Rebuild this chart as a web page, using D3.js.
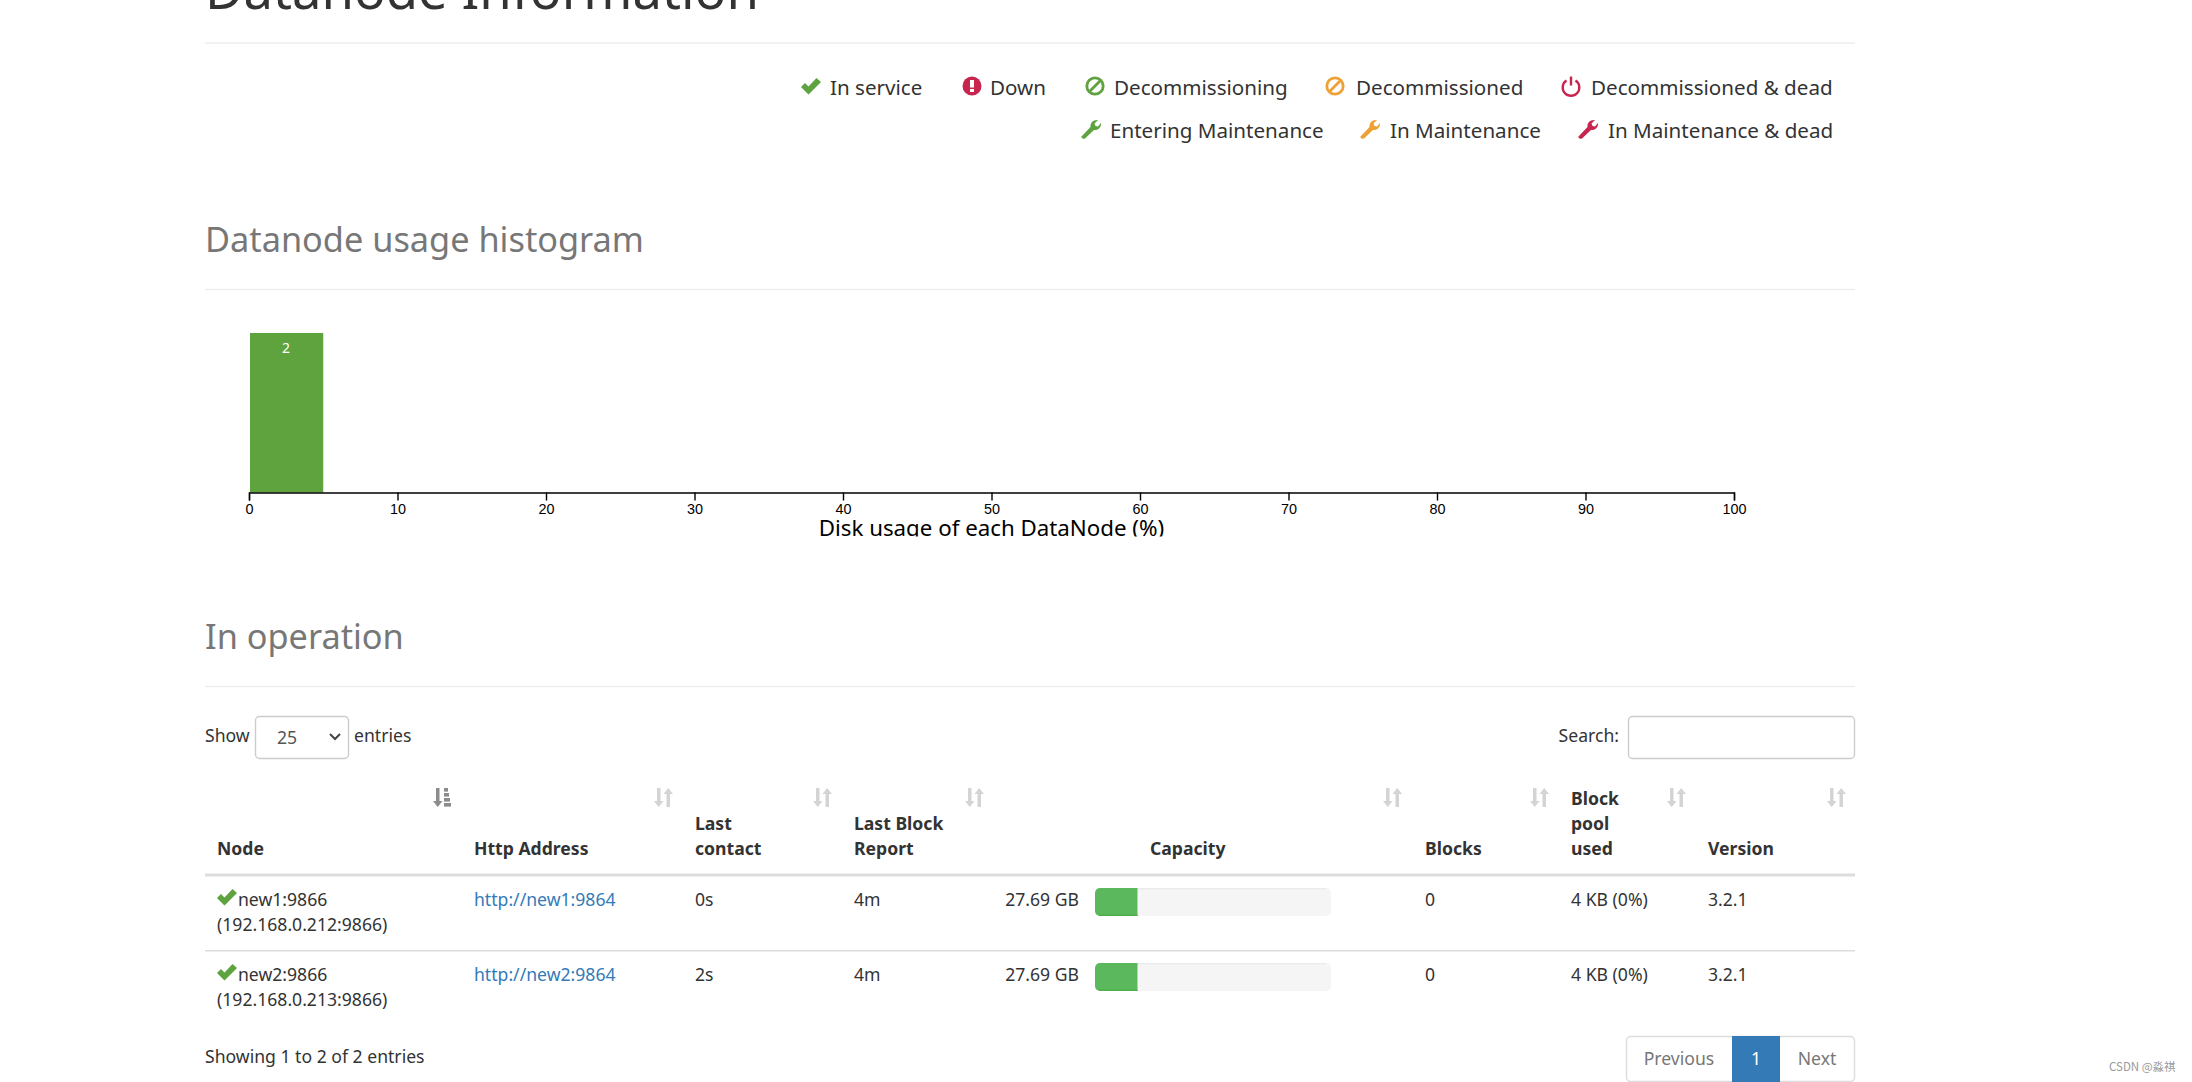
<!DOCTYPE html>
<html>
<head>
<meta charset="utf-8">
<script src="https://cdnjs.cloudflare.com/ajax/libs/d3/7.8.5/d3.min.js"></script>
<style>
  html, body { margin: 0; padding: 0; background: #fff; overflow: hidden; }
  svg { display: block; }
  text { font-family: "Noto Sans", sans-serif; }
</style>
</head>
<body>
<div id="page"></div>
<script>
// Chart values
var binStarts = [0];
var binEnds = [5];
var binCounts = [2];
var tickValues = [0, 10, 20, 30, 40, 50, 60, 70, 80, 90, 100];

// Legend
var legendLabels = ["In service", "Down", "Decommissioning", "Decommissioned", "Decommissioned & dead",
  "Entering Maintenance", "In Maintenance", "In Maintenance & dead"];
var legendIcons = ["check", "alert", "ban", "ban", "power", "wrench", "wrench", "wrench"];
var legendColors = ["#5fa341", "#c7254e", "#5fa341", "#eea236", "#c7254e", "#5fa341", "#eea236", "#c7254e"];

// Table
var nodeNames = ["new1:9866", "new2:9866"];
var nodeAddresses = ["(192.168.0.212:9866)", "(192.168.0.213:9866)"];
var httpAddresses = ["http://new1:9864", "http://new2:9864"];
var lastContacts = ["0s", "2s"];
var lastReports = ["4m", "4m"];
var capacities = ["27.69 GB", "27.69 GB"];
var usedPercents = [18, 18];
var blocks = ["0", "0"];
var poolUsed = ["4 KB (0%)", "4 KB (0%)"];
var versions = ["3.2.1", "3.2.1"];
var headers = [["Node"], ["Http Address"], ["Last", "contact"], ["Last Block", "Report"], ["Capacity"], ["Blocks"], ["Block", "pool", "used"], ["Version"]];

// Layout of the page
var pageLeft = 205, pageRight = 1855;
var textFont = 17.6;
var legendFont = 20.6;
var legendIconX = [801, 962, 1085, 1325, 1561, 1081, 1360, 1578];
var legendTextX = [830, 990, 1114, 1356, 1591, 1110, 1390, 1608];
var legendY = [88, 88, 88, 88, 88, 131, 131, 131];
var columnX = [217, 474, 695, 854, 1150, 1425, 1571, 1708];
var sortIconX = [442, 663, 822, 974, 1392, 1539, 1676, 1836];
var rowY = [900, 975];
var margin = { top: 333, left: 249, right: 458, bottom: 44 };

var svgWidth = 2192;
var svgHeight = 1082;

var svg = d3.select("#page").append("svg")
  .attr("width", svgWidth)
  .attr("height", svgHeight);

svg.append("rect").attr("width", svgWidth).attr("height", svgHeight).attr("fill", "#fff");

// plain text helper
function label(x, y, str, opts) {
  opts = opts || {};
  return svg.append("text")
    .attr("x", x)
    .attr("y", y)
    .attr("dy", "0.35em")
    .attr("font-size", opts.size || textFont)
    .attr("font-weight", opts.weight || 400)
    .attr("fill", opts.fill || "#333")
    .attr("text-anchor", opts.anchor || "start")
    .text(str);
}

function hr(y) {
  svg.append("line")
    .attr("x1", pageLeft).attr("x2", pageRight)
    .attr("y1", y).attr("y2", y)
    .attr("stroke", "#eee")
    .attr("stroke-width", 1.4);
}

// icons are drawn in a 20x20 box
function icon(parent, name, x, y, color, size) {
  var g = parent.append("g")
    .attr("transform", `translate(${x}, ${y - size / 2}) scale(${size / 20})`);
  if (name === "check") {
    g.append("path").attr("fill", color).attr("d", "M0 11 L4 7 L7.5 10.5 L15.5 2 L20 6 L7.5 18.5 Z");
  } else if (name === "alert") {
    g.append("circle").attr("cx", 10).attr("cy", 10).attr("r", 9.5).attr("fill", color);
    g.append("rect").attr("x", 8).attr("y", 4).attr("width", 4).attr("height", 7.5).attr("fill", "#fff");
    g.append("rect").attr("x", 8).attr("y", 13).attr("width", 4).attr("height", 3).attr("fill", "#fff");
  } else if (name === "ban") {
    g.append("circle").attr("cx", 10).attr("cy", 10).attr("r", 8.2)
      .attr("fill", "none").attr("stroke", color).attr("stroke-width", 2.8);
    g.append("line").attr("x1", 5).attr("y1", 15).attr("x2", 15).attr("y2", 5)
      .attr("stroke", color).attr("stroke-width", 2.8);
  } else if (name === "power") {
    g.append("path").attr("fill", "none").attr("stroke", color).attr("stroke-width", 2.4)
      .attr("d", "M5.5 4.5 A8.3 8.3 0 1 0 14.5 4.5");
    g.append("line").attr("x1", 10).attr("y1", 0.5).attr("x2", 10).attr("y2", 9.5)
      .attr("stroke", color).attr("stroke-width", 2.4);
  } else if (name === "wrench") {
    g.append("path").attr("fill", color)
      .attr("d", "M0.5 17.5 L9.5 8 C9 4 12 0.5 17 1 L13.5 4.5 L14.5 7 L17 7.5 L20 4 C20.5 8.5 17 11.5 13 11 L4 19.5 C2.5 20.5 -0.5 19 0.5 17.5 Z");
  }
}

// sort arrows: down and up pair, first one is the active column
function sortIcon(x, y, active) {
  var g = svg.append("g").attr("transform", `translate(${x - 9}, ${y - 10})`);
  if (active) {
    g.append("path").attr("fill", "#8c8c8c").attr("d", "M3 0 H6.5 V13 H9.5 L4.75 19 L0 13 H3 Z");
    g.selectAll("rect").data([[11, 0, 4], [11, 5, 5], [11, 10, 6], [11, 15, 7]]).enter().append("rect")
      .attr("x", d => d[0]).attr("y", d => d[1]).attr("width", d => d[2]).attr("height", 3.6).attr("fill", "#8c8c8c");
  } else {
    g.append("path").attr("fill", "#d4d4d4").attr("d", "M3 0 H6.5 V13 H9.5 L4.75 19 L0 13 H3 Z");
    g.append("path").attr("fill", "#d4d4d4").attr("d", "M12.5 19 H16 V6 H19 L14.25 0 L9.5 6 H12.5 Z");
  }
}

// Page headings
label(pageLeft, -9, "Datanode Information", { size: 52.6, fill: "#333" });
hr(43);
label(pageLeft, 240, "Datanode usage histogram", { size: 34.3, fill: "#777" });
hr(289.5);
label(pageLeft, 637, "In operation", { size: 34.3, fill: "#777" });
hr(686.5);

// Legend
legendLabels.forEach(function (d, i) {
  icon(svg, legendIcons[i], legendIconX[i], legendY[i] - 2, legendColors[i], 20);
  label(legendTextX[i], legendY[i], d, { size: legendFont });
});

// Histogram, inner svg cuts the axis title off like the original
var height = 492.5 - margin.top;

var histogram = svg.append("svg")
  .attr("x", 0)
  .attr("y", margin.top)
  .attr("width", svgWidth)
  .attr("height", height + margin.bottom);

var chartGroup = histogram.append("g")
  .attr("transform", `translate(${margin.left}, 0)`);

var xLinearScale = d3.scaleLinear().domain([0, 100]).range([0, 1485]);
var yLinearScale = d3.scaleLinear().domain([0, d3.max(binCounts)]).range([height, 0]);

chartGroup.selectAll("rect")
  .data(binCounts)
  .enter()
  .append("rect")
  .attr("x", (d, i) => xLinearScale(binStarts[i]) + 1)
  .attr("y", d => yLinearScale(d))
  .attr("width", (d, i) => xLinearScale(binEnds[i]) - xLinearScale(binStarts[i]) - 1)
  .attr("height", d => height - yLinearScale(d))
  .attr("fill", "#5fa33e");

chartGroup.selectAll(".count")
  .data(binCounts)
  .enter()
  .append("text")
  .attr("class", "count")
  .attr("x", (d, i) => xLinearScale((binStarts[i] + binEnds[i]) / 2))
  .attr("y", d => yLinearScale(d) + 15)
  .attr("dy", "0.35em")
  .attr("text-anchor", "middle")
  .attr("font-size", 14)
  .attr("fill", "#fff")
  .text(d => d);

var bottomAxis = d3.axisBottom(xLinearScale).tickValues(tickValues).tickSize(8).tickPadding(3);

var xAxis = chartGroup.append("g")
  .attr("transform", `translate(0, ${height})`)
  .call(bottomAxis);

xAxis.select(".domain").attr("stroke", "#000").attr("stroke-width", 1.4);
xAxis.selectAll(".tick line").attr("stroke", "#000").attr("stroke-width", 1.4);
xAxis.selectAll(".tick text")
  .style("font-family", "'Liberation Sans', Arial, sans-serif")
  .style("font-size", "14.4px")
  .attr("fill", "#000");

chartGroup.append("text")
  .attr("x", xLinearScale(50))
  .attr("y", height + 36)
  .attr("dy", "0.35em")
  .attr("text-anchor", "middle")
  .attr("font-size", 22.3)
  .attr("fill", "#000")
  .text("Disk usage of each DataNode (%)");

// Table controls
label(pageLeft, 736, "Show");
svg.append("rect").attr("x", 255.5).attr("y", 716.5).attr("width", 93).attr("height", 42).attr("rx", 4)
  .attr("fill", "#fff").attr("stroke", "#ccc").attr("stroke-width", 1.4);
label(277, 738, "25", { fill: "#555" });
svg.append("path").attr("d", "M330 734 L335 739 L340 734").attr("fill", "none").attr("stroke", "#444").attr("stroke-width", 2);
label(354, 736, "entries");
label(1619, 736, "Search:", { anchor: "end" });
svg.append("rect").attr("x", 1628.5).attr("y", 716.5).attr("width", 226).attr("height", 42).attr("rx", 4)
  .attr("fill", "#fff").attr("stroke", "#ccc").attr("stroke-width", 1.4);

// Table header, last line of each cell sits on the same baseline
headers.forEach(function (lines, i) {
  lines.forEach(function (str, j) {
    var y = 849 - (lines.length - 1 - j) * 25.3;
    label(columnX[i], y, str, { weight: 700 });
  });
  sortIcon(sortIconX[i], 798, i === 0);
});

svg.append("rect").attr("x", pageLeft).attr("y", 873.5).attr("width", pageRight - pageLeft).attr("height", 3).attr("fill", "#ddd");
svg.append("rect").attr("x", pageLeft).attr("y", 950).attr("width", pageRight - pageLeft).attr("height", 1.5).attr("fill", "#ddd");

// Capacity bars
var barScale = d3.scaleLinear().domain([0, 100]).range([0, 236]);

nodeNames.forEach(function (name, i) {
  var y = rowY[i];
  icon(svg, "check", columnX[0], y - 3, "#5fa341", 20);
  label(238, y, name);
  label(columnX[0], y + 25.3, nodeAddresses[i]);
  label(columnX[1], y, httpAddresses[i], { fill: "#337ab7" });
  label(columnX[2], y, lastContacts[i]);
  label(columnX[3], y, lastReports[i]);
  label(1079, y, capacities[i], { anchor: "end" });
  svg.append("rect").attr("x", 1095).attr("y", y - 12).attr("width", barScale(100)).attr("height", 28)
    .attr("rx", 5).attr("fill", "#f5f5f5");
  svg.append("rect").attr("x", 1100).attr("y", y - 12).attr("width", barScale(100) - 10).attr("height", 1.4)
    .attr("fill", "#ebebeb");
  svg.append("path")
    .attr("d", `M1100 ${y - 12} H${1095 + barScale(usedPercents[i])} V${y + 16} H1100 A5 5 0 0 1 1095 ${y + 11} V${y - 7} A5 5 0 0 1 1100 ${y - 12} Z`)
    .attr("fill", "#5cb85c");
  svg.append("rect").attr("x", 1099).attr("y", y + 14.6).attr("width", barScale(usedPercents[i]) - 4).attr("height", 1.4)
    .attr("fill", "#4cae4c");
  label(columnX[5], y, blocks[i]);
  label(columnX[6], y, poolUsed[i]);
  label(columnX[7], y, versions[i]);
});

// Footer
label(pageLeft, 1057, "Showing 1 to 2 of 2 entries");
svg.append("rect").attr("x", 1626.5).attr("y", 1036.5).attr("width", 228).attr("height", 45).attr("rx", 4)
  .attr("fill", "#fff").attr("stroke", "#ddd").attr("stroke-width", 1.4);
svg.append("rect").attr("x", 1732).attr("y", 1036).attr("width", 48).attr("height", 46).attr("fill", "#337ab7");
label(1679, 1059, "Previous", { anchor: "middle", fill: "#777" });
label(1756, 1059, "1", { anchor: "middle", fill: "#fff" });
label(1817, 1059, "Next", { anchor: "middle", fill: "#777" });

// Watermark
label(2109, 1067, "CSDN @淼祺", { size: 11.5, fill: "#999" }).style("font-family", "'Noto Sans CJK SC', sans-serif");
</script>
</body>
</html>
